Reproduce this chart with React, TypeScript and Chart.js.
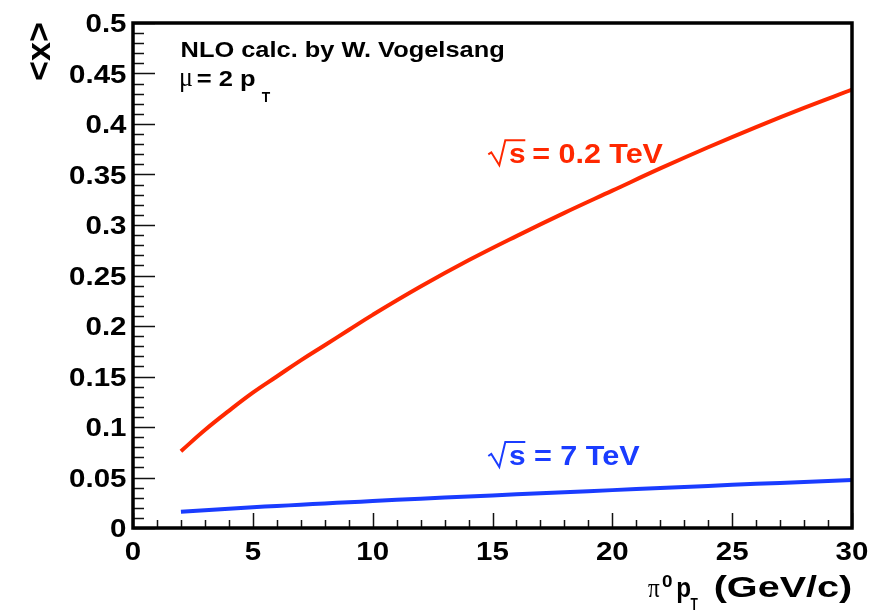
import React, { useEffect, useRef } from 'react';
import { Chart, registerables } from 'chart.js';

Chart.register(...registerables);

// ---- data ----
const pT = [2, 3, 4, 5, 6, 7, 8, 9, 10, 12, 14, 16, 18, 20, 22, 24, 26, 28, 30];
const meanX_0p2TeV = [0.076, 0.097, 0.116, 0.134, 0.150, 0.166, 0.181, 0.196, 0.211, 0.239, 0.265, 0.289, 0.312, 0.334, 0.356, 0.377, 0.397, 0.416, 0.434];
const meanX_7TeV = [0.016, 0.0175, 0.019, 0.0205, 0.0218, 0.023, 0.0243, 0.0255, 0.0267, 0.029, 0.0312, 0.0333, 0.0354, 0.0375, 0.0396, 0.0417, 0.0437, 0.0456, 0.0475];

const X_MIN = 0;
const X_MAX = 30;
const X_STEP = 5;
const X_MINOR = 1;
const Y_MIN = 0;
const Y_MAX = 0.5;
const Y_STEP = 0.05;
const Y_MINOR = 0.01;

const RED = '#ff2800';
const BLUE = '#1a3cff';
const SANS = "'Liberation Sans', Arial, Helvetica, sans-serif";
const SERIF = "'Liberation Serif', 'Times New Roman', serif";
const TICK_FONT = `bold 25px ${SANS}`;
const TICK_STRETCH = 1.18;

const fmtTick = (v: number) => String(Math.round(v * 100) / 100);

function fitText(ctx: CanvasRenderingContext2D, str: string, left: number, right: number, baseline: number, font: string, color: string) {
  ctx.save();
  ctx.font = font;
  ctx.textAlign = 'left';
  ctx.textBaseline = 'alphabetic';
  const m = ctx.measureText(str);
  const inkW = m.actualBoundingBoxRight + m.actualBoundingBoxLeft;
  const sx = (right - left) / inkW;
  ctx.translate(left + m.actualBoundingBoxLeft * sx, baseline);
  ctx.scale(sx, 1);
  ctx.fillStyle = color;
  ctx.fillText(str, 0, 0);
  ctx.restore();
}

function stretchText(ctx: CanvasRenderingContext2D, str: string, x: number, baseline: number, align: 'right' | 'center', font: string, sx: number) {
  ctx.save();
  ctx.font = font;
  ctx.textAlign = 'left';
  ctx.textBaseline = 'alphabetic';
  const w = ctx.measureText(str).width * sx;
  const left = align === 'right' ? x - w : x - w / 2;
  ctx.translate(left, baseline);
  ctx.scale(sx, 1);
  ctx.fillStyle = '#000';
  ctx.fillText(str, 0, 0);
  ctx.restore();
}

function drawSqrt(ctx: CanvasRenderingContext2D, x0: number, base: number, color: string) {
  ctx.save();
  ctx.strokeStyle = color;
  ctx.lineWidth = 2;
  ctx.lineJoin = 'miter';
  ctx.beginPath();
  ctx.moveTo(x0, base - 9);
  ctx.lineTo(x0 + 3, base - 11);
  ctx.lineTo(x0 + 11, base + 2);
  ctx.lineTo(x0 + 17, base - 23);
  ctx.lineTo(x0 + 37, base - 23);
  ctx.stroke();
  ctx.restore();
}

const rootStylePlugin = {
  id: 'rootStyle',
  afterDraw(chart: any) {
    const ctx: CanvasRenderingContext2D = chart.ctx;
    const { left, right, top, bottom } = chart.chartArea;
    const xs = chart.scales.x;
    const ys = chart.scales.y;

    ctx.save();
    // inward ticks
    ctx.strokeStyle = '#111';
    ctx.lineWidth = 1.5;
    ctx.beginPath();
    const nx = Math.round((X_MAX - X_MIN) / X_MINOR);
    for (let i = 0; i <= nx; i++) {
      const v = X_MIN + i * X_MINOR;
      const px = Math.round(xs.getPixelForValue(v)) + 0.5;
      const major = Math.abs(v / X_STEP - Math.round(v / X_STEP)) < 1e-6;
      const len = major ? 15 : 8;
      ctx.moveTo(px, bottom);
      ctx.lineTo(px, bottom - len);
    }
    const ny = Math.round((Y_MAX - Y_MIN) / Y_MINOR);
    for (let i = 0; i <= ny; i++) {
      const v = Y_MIN + i * Y_MINOR;
      const py = Math.round(ys.getPixelForValue(v)) + 0.5;
      const major = Math.abs(v / Y_STEP - Math.round(v / Y_STEP)) < 1e-6;
      const len = major ? 22 : 11;
      ctx.moveTo(left, py);
      ctx.lineTo(left + len, py);
    }
    ctx.stroke();

    // frame
    ctx.strokeStyle = '#000';
    ctx.lineWidth = 3.5;
    ctx.strokeRect(left, top, right - left, bottom - top);

    // tick labels from the library's scale ticks
    for (const t of xs.ticks) {
      stretchText(ctx, fmtTick(t.value), xs.getPixelForValue(t.value), 559.5, 'center', TICK_FONT, TICK_STRETCH);
    }
    for (const t of ys.ticks) {
      stretchText(ctx, fmtTick(t.value), 126.5, ys.getPixelForValue(t.value) + 9, 'right', TICK_FONT, TICK_STRETCH);
    }

    // annotations
    fitText(ctx, 'NLO calc. by W. Vogelsang', 181.7, 503, 56.5, `bold 22px ${SANS}`, '#000');
    fitText(ctx, 'μ', 181, 192.5, 86, `27px ${SERIF}`, '#000');
    fitText(ctx, '= 2 p', 196.7, 255, 85.5, `bold 22px ${SANS}`, '#000');
    fitText(ctx, 'T', 261.7, 270, 101.5, `bold 15px ${SANS}`, '#000');

    drawSqrt(ctx, 488.3, 163.3, RED);
    fitText(ctx, 's', 509, 525, 163.3, `bold 28px ${SANS}`, RED);
    fitText(ctx, '= 0.2 TeV', 533.3, 663.3, 163.3, `bold 28px ${SANS}`, RED);

    drawSqrt(ctx, 488.3, 465, BLUE);
    fitText(ctx, 's', 509, 525, 465, `bold 28px ${SANS}`, BLUE);
    fitText(ctx, '= 7 TeV', 535, 640, 465, `bold 28px ${SANS}`, BLUE);

    // x axis title
    fitText(ctx, 'π', 648, 660, 597, `27px ${SERIF}`, '#000');
    fitText(ctx, '0', 662, 672, 587, `bold 17px ${SANS}`, '#000');
    fitText(ctx, 'p', 677, 690, 597, `bold 28px ${SANS}`, '#000');
    fitText(ctx, 'T', 690.5, 698, 610, `bold 16px ${SANS}`, '#000');
    fitText(ctx, '(GeV/c)', 715, 851, 597, `bold 30px ${SANS}`, '#000');

    // y axis title (rotated)
    ctx.save();
    ctx.translate(50, 80);
    ctx.rotate(-Math.PI / 2);
    fitText(ctx, '<x>', 0, 57, 0, `bold 34px ${SANS}`, '#000');
    ctx.restore();

    ctx.restore();
  },
};

export default function App() {
  const ref = useRef<HTMLCanvasElement>(null);

  useEffect(() => {
    const canvas = ref.current;
    if (!canvas) return;
    const chart = new Chart(canvas, {
      type: 'line',
      data: {
        datasets: [
          {
            label: '√s = 0.2 TeV',
            data: pT.map((x, i) => ({ x, y: meanX_0p2TeV[i] })),
            borderColor: RED,
            backgroundColor: RED,
            borderWidth: 4,
            pointRadius: 0,
            tension: 0.4,
          },
          {
            label: '√s = 7 TeV',
            data: pT.map((x, i) => ({ x, y: meanX_7TeV[i] })),
            borderColor: BLUE,
            backgroundColor: BLUE,
            borderWidth: 4,
            pointRadius: 0,
            tension: 0.4,
          },
        ],
      },
      options: {
        responsive: false,
        animation: false,
        layout: { padding: { top: 23, right: 29, left: 0, bottom: 0 } },
        plugins: { legend: { display: false }, tooltip: { enabled: false } },
        scales: {
          x: {
            type: 'linear',
            min: X_MIN,
            max: X_MAX,
            grid: { display: false, drawTicks: false },
            border: { display: false },
            ticks: { stepSize: X_STEP, display: false, autoSkip: false },
            afterFit: (s: any) => { s.height = 83; },
          },
          y: {
            type: 'linear',
            min: Y_MIN,
            max: Y_MAX,
            grid: { display: false, drawTicks: false },
            border: { display: false },
            ticks: { stepSize: Y_STEP, display: false, autoSkip: false },
            afterFit: (s: any) => { s.width = 133; },
          },
        },
      },
      plugins: [rootStylePlugin],
    } as any);
    return () => chart.destroy();
  }, []);

  return (
    <div style={{ position: 'absolute', left: 0, top: 0, width: 881, height: 611, background: '#fff' }}>
      <canvas ref={ref} width={881} height={611} style={{ display: 'block' }} />
    </div>
  );
}
